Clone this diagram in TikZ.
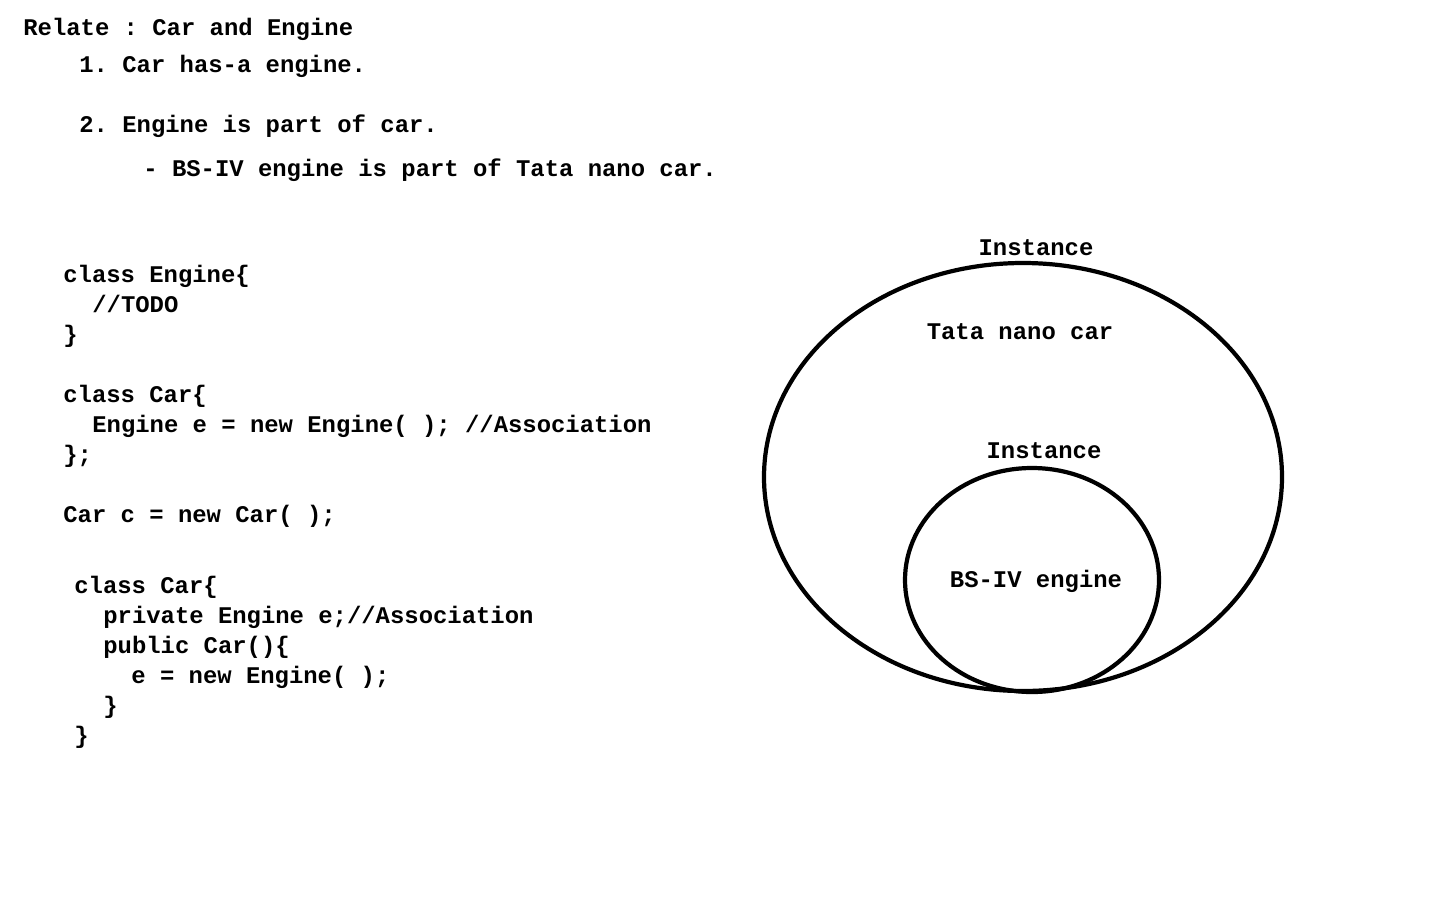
\documentclass[tikz,border=0pt]{standalone}
\usepackage{fontspec}
\newfontfamily\codefont{Liberation Mono}
\usetikzlibrary{positioning}

\tikzset{
    txt/.style={anchor=base west, inner sep=0pt, font=\codefont\bfseries\fontsize{13.6}{16}\selectfont\frenchspacing},
    mid/.style={txt, anchor=base},
    ring/.style={line width=2.4pt}
}

\begin{document}
\begin{tikzpicture}[x=0.02cm, y=-0.02cm]
    \useasboundingbox (0,0) rectangle (1440,900);
    % notes
    \node[txt] (title) at (23,35) {Relate : Car and Engine};
    \node[txt] (one) at (79,72) {1. Car has-a engine.};
    \node[txt] (two) at (79,132) {2. Engine is part of car.};
    \node[txt] (ex) at (143,176) {- BS-IV engine is part of Tata nano car.};
    % first code block
    \node[txt] (e1) at (63,282) {class Engine\{};
    \node[txt] (e2) at (92,312) {//TODO};
    \node[txt] (e3) at (63,342) {\}};
    \node[txt] (c1) at (63,402) {class Car\{};
    \node[txt] (c2) at (92,432) {Engine e = new Engine( ); //Association};
    \node[txt] (c3) at (63,462) {\};};
    \node[txt] (obj) at (63,522) {Car c = new Car( );};
    % second code block
    \node[txt] (d1) at (74,593) {class Car\{};
    \node[txt] (d2) at (103,623) {private Engine e;//Association};
    \node[txt] (d3) at (103,653) {public Car()\{};
    \node[txt] (d4) at (131,683) {e = new Engine( );};
    \node[txt] (d5) at (103,713) {\}};
    \node[txt] (d6) at (74,743) {\}};
    % instances
    \draw[ring] (1023,477) ellipse [x radius=259, y radius=214];
    \draw[ring] (1032,580) ellipse [x radius=127, y radius=112];
    \node[mid] (inst1) at (1036,255) {Instance};
    \node[mid] (car) at (1020,339) {Tata nano car};
    \node[mid] (inst2) at (1044,458) {Instance};
    \node[mid] (eng) at (1036,587) {BS-IV engine};
\end{tikzpicture}
\end{document}
